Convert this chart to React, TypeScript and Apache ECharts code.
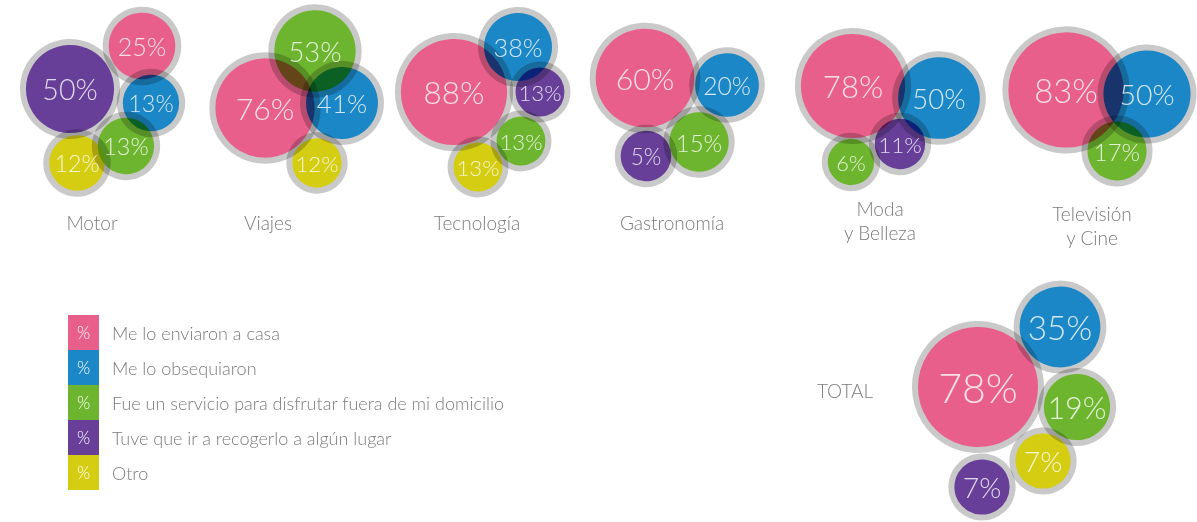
import React, { useEffect, useRef } from 'react';
import * as echarts from 'echarts';

// ---------- DATA ----------
const categories = ['Motor', 'Viajes', 'Tecnología', 'Gastronomía', 'Moda\ny Belleza', 'Televisión\ny Cine', 'TOTAL'];
const seriesNames = [
  'Me lo enviaron a casa',
  'Me lo obsequiaron',
  'Fue un servicio para disfrutar fuera de mi domicilio',
  'Tuve que ir a recogerlo a algún lugar',
  'Otro',
];
const enviaronCasa = [25, 76, 88, 60, 78, 83, 78];
const obsequiaron = [13, 41, 38, 20, 50, 50, 35];
const servicioFuera = [13, 53, 13, 15, 6, 17, 19];
const recogerLugar: (number | null)[] = [50, null, 13, 5, 11, null, 7];
const otro: (number | null)[] = [12, 12, 13, null, null, null, 7];

const valueTable: (number | null)[][] = [enviaronCasa, obsequiaron, servicioFuera, recogerLugar, otro];

// ---------- LAYOUT / STYLE ----------
const W = 1197;
const H = 522;
const COLORS = ['#e95f8b', '#1b87c6', '#6db52e', '#673f98', '#d5cd12'];
const RING = 6;
const RING_COLOR = '#c9c9c9';
const TEXT_GRAY = '#7b7b7b';
const FONT = 'Lato, "Open Sans", sans-serif';

// anchor of each cluster (its caption position)
const clusterAnchor: [number, number][] = [
  [92, 222], [268, 222], [477, 222], [672, 222], [880, 220], [1092, 225], [845, 390],
];
const clusterScale = [1.1, 1.0, 0.98, 1.12, 1.03, 1.09, 1.17];
const fontScale = [1, 1, 1, 1, 1, 1, 1.22];
// bubble offsets from the cluster anchor, per series, per cluster
const bubbleOffset: ([number, number] | null)[][] = [
  [[50, -176], [-3, -114], [-23, -130], [-27, -144], [-27, -134], [-26, -135], [133, -3]],
  [[59, -119], [74, -119], [41, -175], [55, -137], [59, -122], [55, -131], [215, -63]],
  [[34, -76], [47, -171], [44, -81], [27, -80], [-29, -58], [25, -74], [232, 17]],
  [[-22, -133], null, [63, -130], [-26, -66], [20, -76], null, [137, 97]],
  [[-15, -59], [49, -59], [1, -55], null, null, null, [198, 71]],
];

// size scale: outer radius of a bubble from its value
const radius = (v: number, c: number) => (26 + 0.39 * v) * clusterScale[c];
const labelSize = (v: number, c: number) => (0.32 * radius(v, c) + 12.5) * fontScale[c];

export default function App() {
  const ref = useRef<HTMLDivElement>(null);

  useEffect(() => {
    document.body.style.margin = '0';
    if (!ref.current) return;
    const chart = echarts.init(ref.current, undefined, { renderer: 'svg' });

    const bubbleSeries = valueTable.map((vals, s) => ({
      type: 'scatter',
      name: seriesNames[s],
      silent: true,
      z: 2,
      symbol: 'circle',
      symbolSize: (val: number[]) => 2 * radius(val[2], val[3]) - RING,
      itemStyle: { color: COLORS[s], borderColor: RING_COLOR, borderWidth: RING, opacity: 1 },
      label: { show: false },
      data: vals
        .map((v, c) => {
          const off = bubbleOffset[s][c];
          if (v == null || !off) return null;
          return [clusterAnchor[c][0] + off[0], clusterAnchor[c][1] + off[1], v, c];
        })
        .filter((d) => d !== null),
    }));

    const labelData: any[] = [];
    valueTable.forEach((vals, s) => {
      vals.forEach((v, c) => {
        const off = bubbleOffset[s][c];
        if (v == null || !off) return;
        labelData.push({
          value: [clusterAnchor[c][0] + off[0], clusterAnchor[c][1] + off[1], v, c],
          label: { fontSize: labelSize(v, c) },
        });
      });
    });

    const labelSeries = {
      type: 'scatter',
      silent: true,
      z: 10,
      symbolSize: 1,
      itemStyle: { color: 'transparent' },
      label: {
        show: true,
        position: 'inside',
        color: '#ffffff',
        fontFamily: FONT,
        fontWeight: 300,
        formatter: (p: any) => `${p.value[2]}%`,
      },
      data: labelData,
    };

    const captions = categories.map((name, c) => ({
      type: 'text',
      x: clusterAnchor[c][0],
      y: clusterAnchor[c][1],
      silent: true,
      style: {
        text: name,
        fill: TEXT_GRAY,
        font: `300 19px ${FONT}`,
        align: 'center',
        verticalAlign: 'middle',
        lineHeight: 24,
      },
    }));

    const legendTop = 315;
    const rowH = 35;
    const legendItems: any[] = [];
    seriesNames.forEach((name, i) => {
      legendItems.push({
        type: 'rect',
        silent: true,
        shape: { x: 68, y: legendTop + i * rowH, width: 31, height: rowH },
        style: { fill: COLORS[i] },
      });
      legendItems.push({
        type: 'text',
        silent: true,
        x: 83.5,
        y: legendTop + i * rowH + rowH / 2,
        style: { text: '%', fill: '#ffffff', font: `300 17px ${FONT}`, align: 'center', verticalAlign: 'middle' },
      });
      legendItems.push({
        type: 'text',
        silent: true,
        x: 112,
        y: legendTop + i * rowH + rowH / 2,
        style: { text: name, fill: TEXT_GRAY, font: `300 18px ${FONT}`, align: 'left', verticalAlign: 'middle' },
      });
    });

    chart.setOption({
      animation: false,
      grid: { left: 0, right: 0, top: 0, bottom: 0 },
      xAxis: { type: 'value', min: 0, max: W, show: false },
      yAxis: { type: 'value', min: 0, max: H, inverse: true, show: false },
      series: [...bubbleSeries, labelSeries],
      graphic: [...captions, ...legendItems],
    } as any);

    return () => chart.dispose();
  }, []);

  return (
    <div className="bubble-chart">
      <style>{`.bubble-chart svg path, .bubble-chart svg circle { mix-blend-mode: multiply; }`}</style>
      <div ref={ref} style={{ width: W, height: H }} />
    </div>
  );
}
